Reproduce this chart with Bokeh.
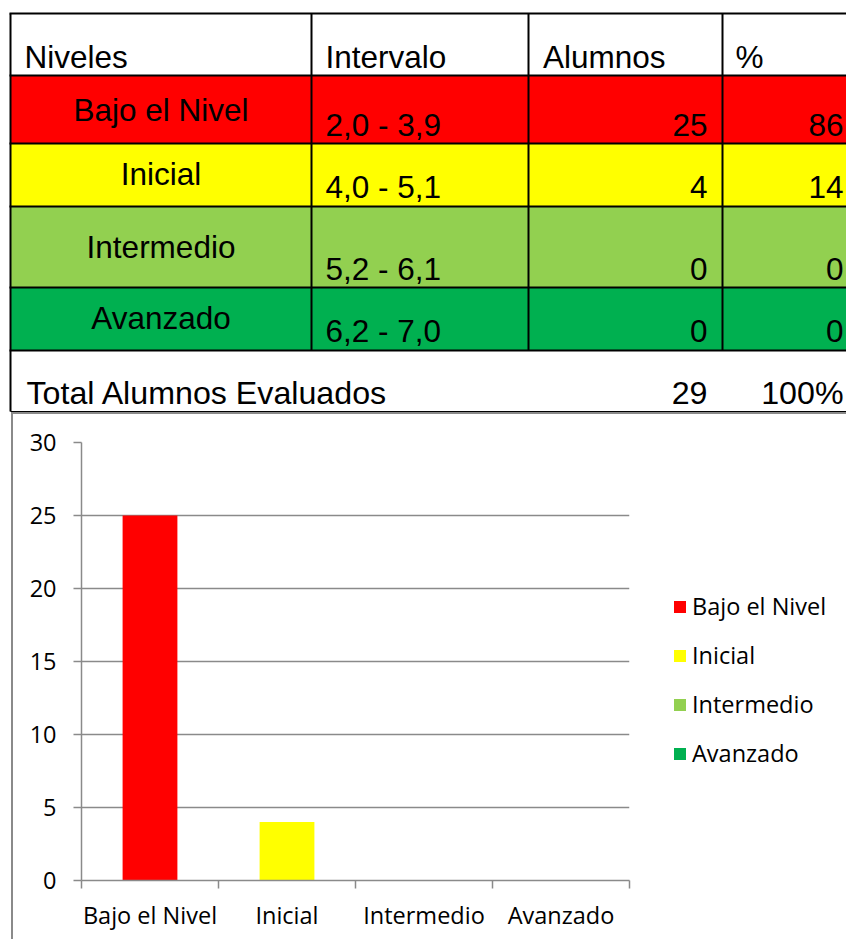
from bokeh.plotting import figure
from bokeh.models import Range1d, FixedTicker, Legend, LegendItem, ColumnDataSource
from bokeh.embed import file_html
from bokeh.resources import INLINE
from bokeh.core.properties import value

# ---------------- data ----------------
headers = ["Niveles", "Intervalo", "Alumnos", "%"]
niveles = ["Bajo el Nivel", "Inicial", "Intermedio", "Avanzado"]
intervalos = ["2,0 - 3,9", "4,0 - 5,1", "5,2 - 6,1", "6,2 - 7,0"]
alumnos = [25, 4, 0, 0]
porcentajes = [86, 14, 0, 0]
total_label = "Total Alumnos Evaluados"
total_alumnos = 29
total_pct = "100%"
y_ticks = [0, 5, 10, 15, 20, 25, 30]

# ---------------- styles / layout ----------------
colores = ["#FF0000", "#FFFF00", "#92D050", "#00B050"]
W = 846
TABLE_H = 412
TABLE_FONT = value("Liberation Sans")
TFS = "31.5px"
TFS_TOTAL = "32.2px"
CHART_FONT = "Open Sans"
CFS = "23.5px"
GRAY = "#8A8A8A"

col_edges = [10, 311, 528, 722, 900]
row_edges = [13, 75, 143, 206, 287, 350]
DY = -11.5  # correction from wanted alphabetic baseline to bokeh text anchor
header_base = 68 + DY
nivel_base = [b + DY for b in (121, 185, 258, 329)]
value_base = [b + DY for b in (136, 198, 280, 342)]
total_base = 404 + DY
x_nivel_center = (col_edges[0] + col_edges[1]) / 2
x_header = [24, 325, 542.5, 735]
x_interval = 325
x_alum_right = 707
x_pct_right = 843
x_total_left = 26

# ---------------- table figure ----------------
t = figure(width=W, height=TABLE_H, x_range=Range1d(0, W), y_range=Range1d(TABLE_H, 0),
           output_backend="svg", toolbar_location=None, min_border=0,
           x_axis_location=None, y_axis_location=None)
t.grid.visible = False
t.outline_line_color = None

n = len(niveles)
t.quad(left=[col_edges[0]] * n, right=[col_edges[-1]] * n,
       top=row_edges[1:1 + n], bottom=row_edges[2:2 + n], fill_color=colores, line_color=None)

txt = dict(text_font=TABLE_FONT, text_font_size=TFS, text_baseline="alphabetic", text_color="black")
t.text(x=x_header, y=[header_base] * 4, text=headers, text_align="left", **txt)
t.text(x=[x_nivel_center] * n, y=nivel_base, text=niveles, text_align="center", **txt)
t.text(x=[x_interval] * n, y=value_base, text=intervalos, text_align="left", **txt)
t.text(x=[x_alum_right] * n, y=value_base, text=[str(a) for a in alumnos], text_align="right", **txt)
t.text(x=[x_pct_right] * n, y=value_base, text=[str(p) for p in porcentajes], text_align="right", **txt)
txt_total = dict(txt, text_font_size=TFS_TOTAL)
t.text(x=[x_total_left], y=[total_base], text=[total_label], text_align="left", **txt_total)
t.text(x=[x_alum_right, x_pct_right], y=[total_base] * 2, text=[str(total_alumnos), total_pct],
       text_align="right", **txt_total)

xs, ys = [], []
for yy in row_edges:
    xs.append([col_edges[0] - 1, col_edges[-1]]); ys.append([yy, yy])
for xx in col_edges[1:4]:
    xs.append([xx, xx]); ys.append([row_edges[0], row_edges[-1]])
xs.append([col_edges[0], col_edges[0]]); ys.append([row_edges[0], 411])
t.multi_line(xs, ys, line_color="black", line_width=2)
t.line([col_edges[0], col_edges[-1]], [411, 411], line_color="black", line_width=1.2)

# ---------------- chart figure ----------------
c = figure(frame_width=548, frame_height=438, x_range=Range1d(0, n), y_range=Range1d(0, 30),
           output_backend="svg", toolbar_location=None,
           min_border_left=81, min_border_right=217, min_border_top=30, min_border_bottom=59)
c.outline_line_color = None
c.xgrid.visible = False
c.border_fill_alpha = 0
c.styles = {
    "background": ("linear-gradient(#8A8A8A,#8A8A8A) 11px 0px / 2px 100% no-repeat, "
                   "linear-gradient(#8A8A8A,#8A8A8A) 11px 0px / 100% 2px no-repeat, white"),
}

positions = [i + 0.5 for i in range(n)]
src = ColumnDataSource(dict(x=positions, top=alumnos, color=colores, nivel=niveles))
bars = c.vbar(x="x", top="top", bottom=0, width=0.4, fill_color="color", line_color=None, source=src)

yt = FixedTicker(ticks=y_ticks)
c.yaxis.ticker = yt
c.ygrid.ticker = yt
c.ygrid.grid_line_color = GRAY
c.ygrid.grid_line_width = 1.5
c.yaxis.axis_line_color = GRAY
c.yaxis.axis_line_width = 1.5
c.yaxis.major_tick_line_color = GRAY
c.yaxis.major_tick_line_width = 1.5
c.yaxis.major_tick_out = 8
c.yaxis.major_tick_in = 0
c.yaxis.minor_tick_line_color = None
c.yaxis.major_label_standoff = 17
c.yaxis.major_label_text_font = CHART_FONT
c.yaxis.major_label_text_font_size = CFS
c.yaxis.major_label_text_color = "black"

c.xaxis.ticker = FixedTicker(ticks=positions, minor_ticks=list(range(n + 1)))
c.xaxis.major_label_overrides = {p: lab for p, lab in zip(positions, niveles)}
c.xaxis.axis_line_color = GRAY
c.xaxis.axis_line_width = 1.5
c.xaxis.major_tick_line_color = None
c.xaxis.major_tick_out = 0
c.xaxis.major_tick_in = 0
c.xaxis.minor_tick_line_color = GRAY
c.xaxis.minor_tick_line_width = 1.5
c.xaxis.minor_tick_out = 8
c.xaxis.minor_tick_in = 0
c.xaxis.major_label_standoff = 10
c.xaxis.major_label_text_font = CHART_FONT
c.xaxis.major_label_text_font_size = CFS
c.xaxis.major_label_text_color = "black"

items = [LegendItem(label=lab, renderers=[bars], index=i) for i, lab in enumerate(niveles)]
leg = Legend(items=items, location=(43, 111), padding=0, margin=0, spacing=17,
             glyph_width=15, glyph_height=15, label_standoff=5,
             label_text_font=CHART_FONT, label_text_font_size=CFS, label_text_color="black",
             border_line_color=None, background_fill_alpha=0)
c.add_layout(leg, "right")

open("out.html", "w").write(file_html([t, c], INLINE))
